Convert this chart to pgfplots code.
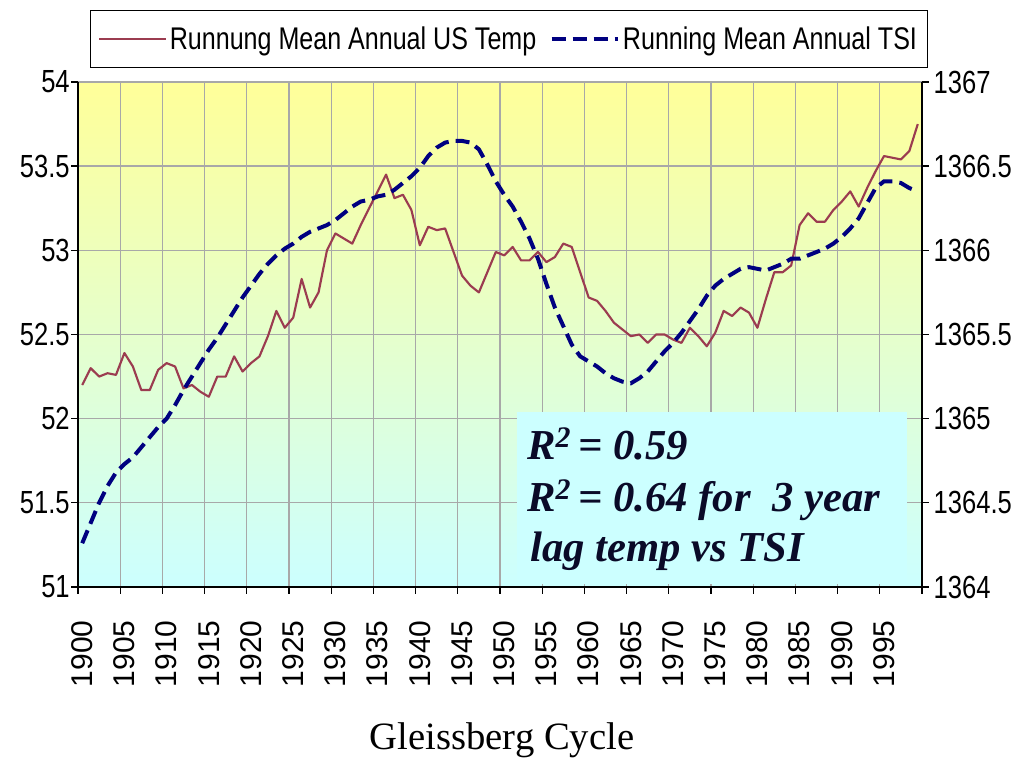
\documentclass[border=0pt]{standalone}
\usepackage{fontspec}
\setmainfont{Liberation Sans}
\newfontfamily\narrowfont{Liberation Sans}[FakeStretch=0.8]
\newfontfamily\titleserif{Liberation Serif}
\usepackage{pgfplots}
\usepackage{pgfplotstable}
\pgfplotsset{compat=1.18}
\definecolor{tempc}{RGB}{155,60,80}
\definecolor{tsic}{RGB}{0,0,128}
\definecolor{gridc}{RGB}{168,168,168}
\definecolor{topbg}{RGB}{255,255,153}
\definecolor{botbg}{RGB}{204,255,255}
\definecolor{boxc}{RGB}{204,255,255}
\definecolor{txtc}{RGB}{10,10,40}

\pgfplotstableread{
year temp
1900 52.20
1901 52.30
1902 52.25
1903 52.27
1904 52.26
1905 52.39
1906 52.31
1907 52.17
1908 52.17
1909 52.29
1910 52.33
1911 52.31
1912 52.18
1913 52.20
1914 52.16
1915 52.13
1916 52.25
1917 52.25
1918 52.37
1919 52.28
1920 52.33
1921 52.37
1922 52.49
1923 52.64
1924 52.54
1925 52.60
1926 52.83
1927 52.66
1928 52.75
1929 53.00
1930 53.10
1931 53.07
1932 53.04
1933 53.15
1934 53.25
1935 53.35
1936 53.45
1937 53.31
1938 53.33
1939 53.24
1940 53.03
1941 53.14
1942 53.12
1943 53.13
1944 52.99
1945 52.85
1946 52.79
1947 52.75
1948 52.87
1949 52.99
1950 52.97
1951 53.02
1952 52.94
1953 52.94
1954 52.99
1955 52.93
1956 52.96
1957 53.04
1958 53.02
1959 52.87
1960 52.72
1961 52.70
1962 52.64
1963 52.57
1964 52.53
1965 52.49
1966 52.50
1967 52.45
1968 52.50
1969 52.50
1970 52.47
1971 52.45
1972 52.54
1973 52.49
1974 52.43
1975 52.51
1976 52.64
1977 52.61
1978 52.66
1979 52.63
1980 52.54
1981 52.71
1982 52.87
1983 52.87
1984 52.91
1985 53.15
1986 53.22
1987 53.17
1988 53.17
1989 53.24
1990 53.29
1991 53.35
1992 53.26
1993 53.37
1994 53.47
1995 53.56
1996 53.55
1997 53.54
1998 53.59
1999 53.75
}\temptable

\pgfplotstableread{
year tsi
1900 1364.26
1901 1364.38
1902 1364.50
1903 1364.60
1904 1364.68
1905 1364.73
1906 1364.77
1907 1364.83
1908 1364.89
1909 1364.95
1910 1365.00
1911 1365.08
1912 1365.17
1913 1365.25
1914 1365.33
1915 1365.41
1916 1365.48
1917 1365.56
1918 1365.64
1919 1365.72
1920 1365.79
1921 1365.86
1922 1365.92
1923 1365.97
1924 1366.01
1925 1366.04
1926 1366.08
1927 1366.11
1928 1366.13
1929 1366.15
1930 1366.18
1931 1366.22
1932 1366.26
1933 1366.29
1934 1366.30
1935 1366.32
1936 1366.33
1937 1366.36
1938 1366.40
1939 1366.44
1940 1366.49
1941 1366.56
1942 1366.61
1943 1366.64
1944 1366.65
1945 1366.65
1946 1366.64
1947 1366.60
1948 1366.51
1949 1366.41
1950 1366.33
1951 1366.26
1952 1366.17
1953 1366.07
1954 1365.95
1955 1365.80
1956 1365.66
1957 1365.55
1958 1365.44
1959 1365.37
1960 1365.34
1961 1365.31
1962 1365.27
1963 1365.24
1964 1365.22
1965 1365.21
1966 1365.24
1967 1365.28
1968 1365.34
1969 1365.40
1970 1365.45
1971 1365.51
1972 1365.58
1973 1365.65
1974 1365.73
1975 1365.79
1976 1365.83
1977 1365.86
1978 1365.89
1979 1365.90
1980 1365.89
1981 1365.88
1982 1365.90
1983 1365.92
1984 1365.95
1985 1365.95
1986 1365.97
1987 1365.99
1988 1366.01
1989 1366.04
1990 1366.08
1991 1366.13
1992 1366.19
1993 1366.28
1994 1366.37
1995 1366.41
1996 1366.41
1997 1366.40
1998 1366.37
1999 1366.35
}\tsitable

\begin{document}
\begin{tikzpicture}
\begin{axis}[name=ax,
  width=633pt, height=378.75pt, scale only axis,
  xmin=1899.5, xmax=1999.5, ymin=51, ymax=54,
  axis background/.style={top color=topbg, bottom color=botbg},
  axis x line*=bottom, axis y line*=left,
  axis line style={-, line width=1.2pt, black},
  ytick={51,51.5,52,52.5,53,53.5,54},
  xtick={1899.5,1904.5,1909.5,1914.5,1919.5,1924.5,1929.5,1934.5,1939.5,1944.5,1949.5,1954.5,1959.5,1964.5,1969.5,1974.5,1979.5,1984.5,1989.5,1994.5,1999.5},
  xticklabels={},
  extra x ticks={1900,1905,1910,1915,1920,1925,1930,1935,1940,1945,1950,1955,1960,1965,1970,1975,1980,1985,1990,1995},
  extra x tick style={grid=none, major tick length=0pt},
  xmajorgrids, ymajorgrids,
  grid style={gridc, line width=1pt},
  tick align=outside, major tick length=5pt,
  tick style={black, line width=1pt},
  yticklabel style={font=\narrowfont\fontsize{24}{28}\selectfont, inner xsep=1pt},
  xticklabel style={font=\fontsize{22.5}{26}\selectfont, rotate=90, anchor=east, inner xsep=25pt},
  /pgf/number format/assume math mode=true,
  /pgf/number format/1000 sep={},
]
\fill[boxc] (axis cs:1951.5,51.02) rectangle (axis cs:1997.7,52.04);
\addplot[tempc, line width=1.6pt, line join=round] table[x=year, y=temp]{\temptable};
\end{axis}
\begin{axis}[
  width=633pt, height=378.75pt, scale only axis,
  xmin=1899.5, xmax=1999.5, ymin=1364, ymax=1367,
  axis x line=none, axis y line*=right,
  axis line style={-, line width=1.2pt, black},
  ytick={1364,1364.5,1365,1365.5,1366,1366.5,1367},
  tick align=outside, major tick length=5pt,
  tick style={black, line width=1pt},
  yticklabel style={font=\narrowfont\fontsize{24}{28}\selectfont, inner xsep=3.5pt},
  /pgf/number format/assume math mode=true,
  /pgf/number format/1000 sep={},
  legend columns=-1,
  legend image code/.code={\draw[#1] (0pt,0pt) -- (50pt,0pt);},
  legend style={at={(0.5107,1)}, anchor=south, yshift=10.5pt, draw=black, line width=0.8pt,
    font=\narrowfont\fontsize{23.5}{28}\selectfont, inner xsep=6pt, inner ysep=10pt,
    /tikz/every even column/.append style={column sep=8pt}},
]
\addlegendimage{tempc, line width=1.6pt}
\addlegendentry{Runnung Mean Annual US Temp}
\addplot[tsic, line width=3pt, dash pattern=on 10.5pt off 5.25pt] table[x=year, y=tsi]{\tsitable};
\addlegendentry{Running Mean Annual TSI}
\end{axis}
\node[anchor=base west, text=txtc, font=\titleserif\bfseries\itshape\fontsize{32}{38}\selectfont, inner sep=0pt]
  at ([xshift=336.75pt, yshift=95.25pt]ax.south west) {R\textsuperscript{2}\,= 0.59};
\node[anchor=base west, text=txtc, font=\titleserif\bfseries\itshape\fontsize{32}{38}\selectfont, inner sep=0pt]
  at ([xshift=336.75pt, yshift=56.25pt]ax.south west) {R\textsuperscript{2}\,= 0.64 for\ \ 3 year};
\node[anchor=base west, text=txtc, font=\titleserif\bfseries\itshape\fontsize{32}{38}\selectfont, inner sep=0pt]
  at ([xshift=339pt, yshift=18.75pt]ax.south west) {lag temp vs TSI};
\node[font=\titleserif\fontsize{29}{34}\selectfont] at ([xshift=1.5pt, yshift=-114.75pt]ax.south) {Gleissberg Cycle};
\pgfresetboundingbox
\path ([xshift=-58.5pt, yshift=-129pt]ax.south west) rectangle ++(765.75pt,569.25pt);
\end{tikzpicture}
\end{document}
